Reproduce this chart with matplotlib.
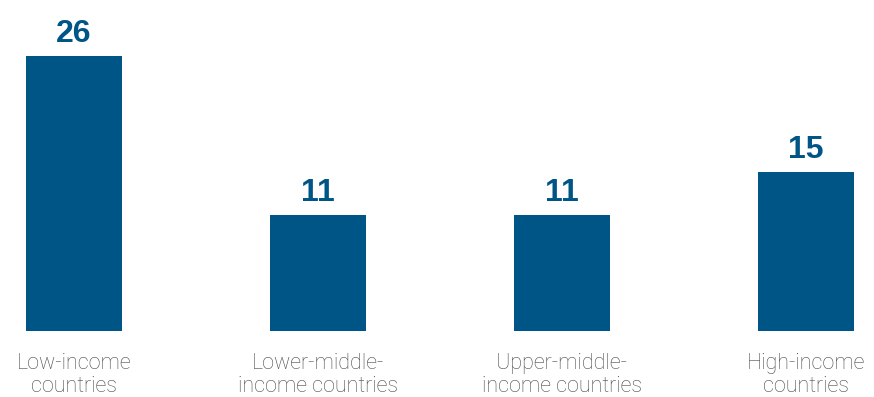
import matplotlib
matplotlib.use("Agg")
import matplotlib.pyplot as plt

categories = ["Low-income\ncountries", "Lower-middle-\nincome countries",
              "Upper-middle-\nincome countries", "High-income\ncountries"]
values = [26, 11, 11, 15]

bar_color = "#005587"
label_color = "#4a4a4a"

fig = plt.figure(figsize=(8.74, 3.97), dpi=100)
ax = fig.add_axes([0, 66 / 397, 1, 331 / 397])

x = list(range(len(values)))
bars = ax.bar(x, values, width=0.393, color=bar_color)

ax.set_xlim(-0.303, 3.28)
ax.set_ylim(0, 31.3)
ax.axis("off")

# value labels above each bar
for bar, v in zip(bars, values):
    ax.annotate(f"{v}", (bar.get_x() + bar.get_width() / 2, v),
                xytext=(0, 5), textcoords="offset points",
                ha="center", va="bottom", fontsize=23, fontweight="bold",
                family="Liberation Sans", color=bar_color)

# category names under the baseline
for xi, cat in zip(x, categories):
    ax.annotate(cat, (xi, 0), xycoords=("data", "axes fraction"),
                xytext=(0, -16), textcoords="offset points",
                ha="center", va="top", fontsize=15.5, fontweight="light",
                family="Roboto", color=label_color, linespacing=1.12)

fig.savefig("out.png", dpi=100)
